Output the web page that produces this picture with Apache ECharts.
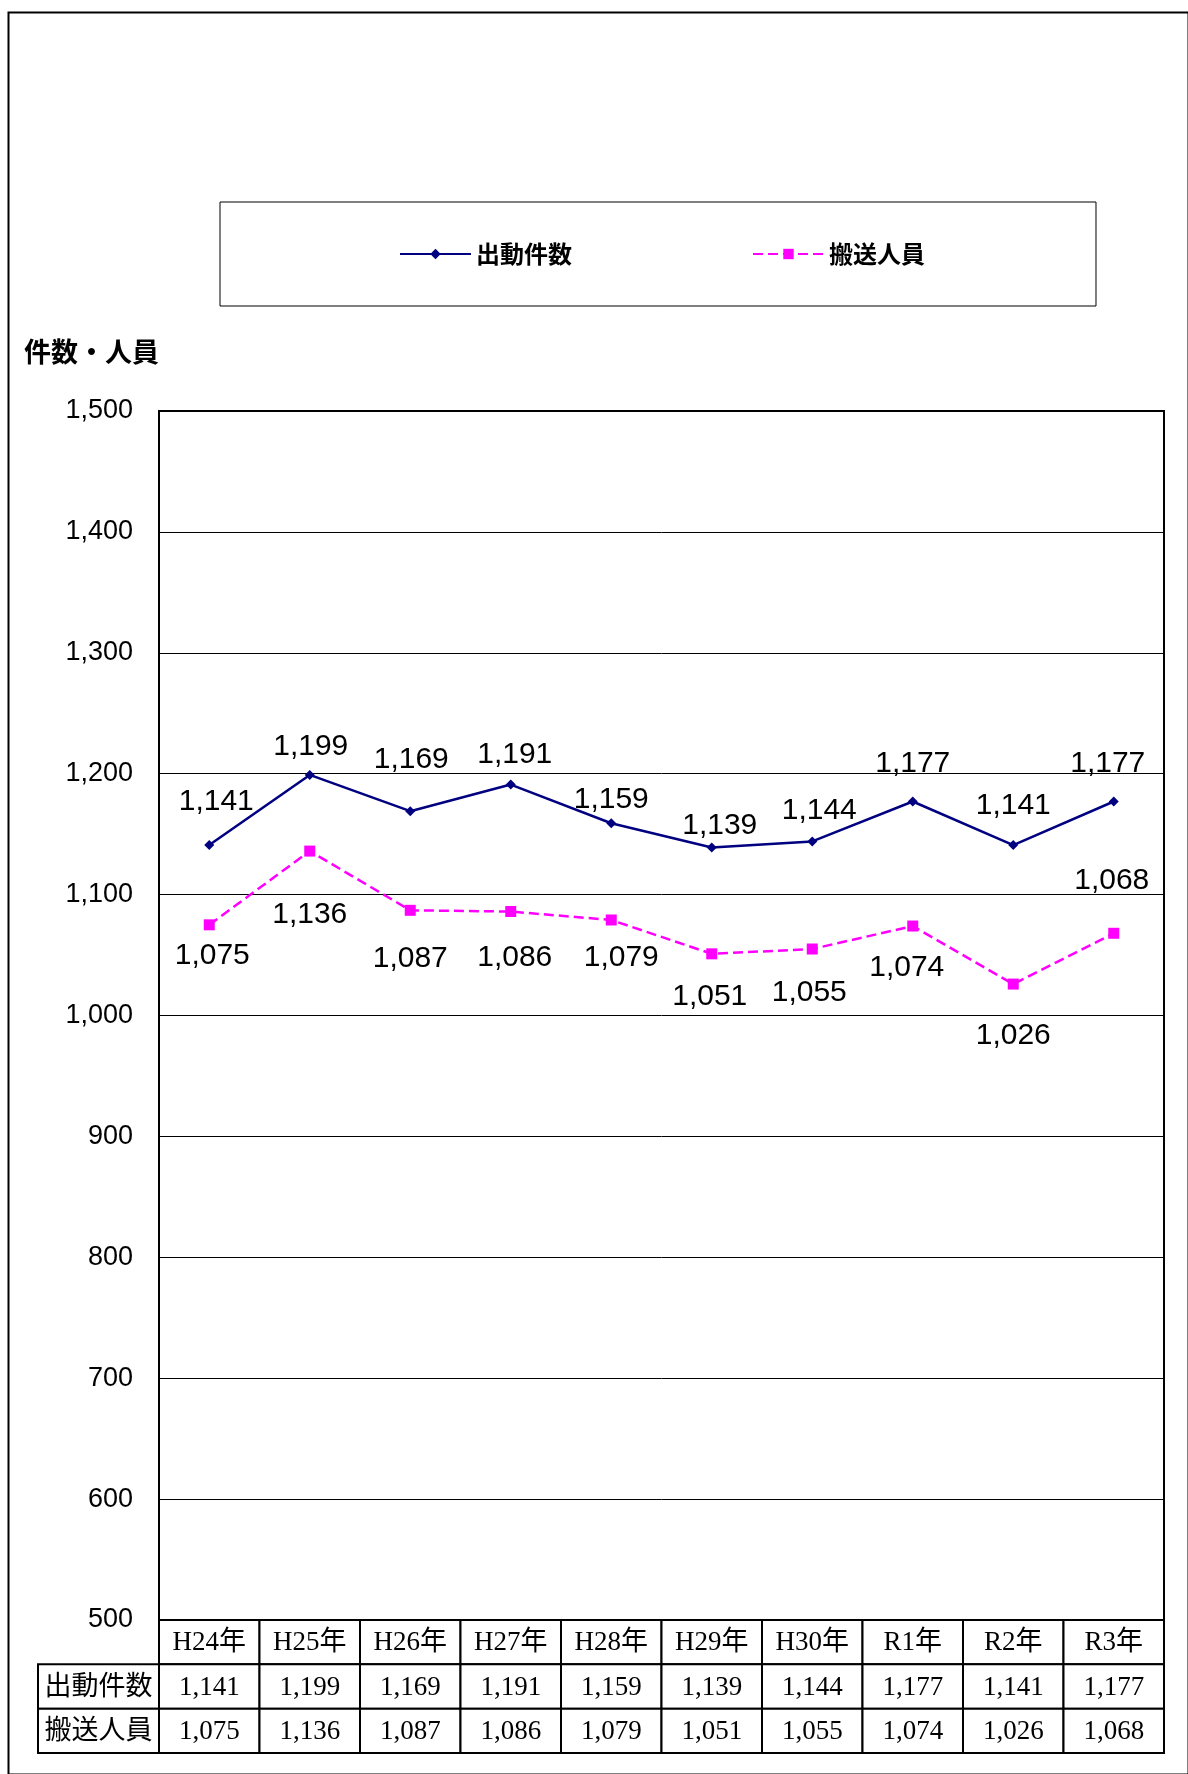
<!DOCTYPE html>
<html><head><meta charset="utf-8">
<script src="https://cdn.jsdelivr.net/npm/echarts@6/dist/echarts.min.js"></script>
<style>html,body{margin:0;padding:0;background:#fff}#c{width:1188px;height:1774px}</style>
</head><body><div id="c"></div>
<script>
// ---- data ----
const categories = ['H24年','H25年','H26年','H27年','H28年','H29年','H30年','R1年','R2年','R3年'];
const seriesNames = ['出動件数','搬送人員'];
const dispatchCounts = [1141,1199,1169,1191,1159,1139,1144,1177,1141,1177];
const transportCounts = [1075,1136,1087,1086,1079,1051,1055,1074,1026,1068];
const yMin = 500, yMax = 1500, yStep = 100;
const yAxisName = '件数・人員';

// ---- label placement (relative offsets from each point, px) ----
const dispatchLabelOffsets = [[7,-43],[1,-28],[1,-51],[4,-30],[0,-24],[8,-22],[7,-31],[0,-38],[0,-39],[-6,-38]];
const transportLabelOffsets = [[3,31],[0,64],[0,48],[4,46],[10,38],[-2,43],[-3,44],[-6,42],[0,52],[-2,-53]];

const fmt = v => Number(v).toLocaleString('en-US');
const LABEL_FONT = "'Liberation Sans',Arial,sans-serif";
const SANS = "'Liberation Sans',Arial,sans-serif";
const TABLE_FONT = "'Liberation Serif','Noto Sans CJK JP',serif";
const CJK = "'Noto Sans CJK JP',sans-serif";
const HEADER_W = 121;

function mkData(vals, offs) {
  return vals.map((v, i) => ({ value: v, label: { offset: offs[i] } }));
}

const tableRows = [categories, dispatchCounts.map(fmt), transportCounts.map(fmt)];
const tableData = [];
for (let r = 0; r < 3; r++) for (let i = 0; i < categories.length; i++) tableData.push([i, r, 0]);
for (let r = 1; r < 3; r++) tableData.push([0, r, 1]);

const chart = echarts.init(document.getElementById('c'), null, { renderer: 'canvas' });
chart.setOption({
  animation: false,
  backgroundColor: '#fff',
  graphic: [{
    type: 'rect', left: 6, top: 10, z: -1,
    shape: { width: 1180, height: 1762 },
    style: { fill: 'none', stroke: '#000', lineWidth: 2 }
  }],
  legend: {
    left: 220, top: 202,
    padding: [40, 171, 40, 179],
    borderColor: '#000', borderWidth: 1,
    itemWidth: 71, itemHeight: 13, itemGap: 180,
    textStyle: { fontFamily: CJK, fontSize: 24, fontWeight: 'bold', color: '#000', lineHeight: 24 },
    data: seriesNames
  },
  grid: [
    { left: 159, right: 24, top: 411, bottom: 154, show: true, borderColor: '#000', borderWidth: 2, backgroundColor: 'transparent' },
    { left: 159, right: 24, top: 1620, bottom: 21 }
  ],
  xAxis: [
    { type: 'category', gridIndex: 0, data: categories, boundaryGap: true,
      axisLine: { show: true, lineStyle: { color: '#000', width: 2 } },
      axisTick: { show: false }, axisLabel: { show: false }, splitLine: { show: false } },
    { type: 'category', gridIndex: 1, data: categories, show: false }
  ],
  yAxis: [
    { type: 'value', gridIndex: 0, min: yMin, max: yMax, interval: yStep,
      name: yAxisName, nameLocation: 'end', nameGap: 46,
      nameTextStyle: { fontFamily: CJK, fontSize: 27, fontWeight: 'bold', color: '#000', align: 'right' },
      axisLine: { show: false }, axisTick: { show: false },
      axisLabel: { formatter: fmt, fontSize: 27, fontFamily: SANS, color: '#000', margin: 26, padding: [6, 0, 0, 0] },
      splitLine: { show: true, lineStyle: { color: '#000', width: 1 } } },
    { type: 'category', gridIndex: 1, data: ['c', 'a', 'b'], inverse: true, show: false }
  ],
  series: [
    { name: seriesNames[0], type: 'line', xAxisIndex: 0, yAxisIndex: 0,
      data: mkData(dispatchCounts, dispatchLabelOffsets),
      symbol: 'diamond', symbolSize: 10,
      lineStyle: { color: '#000080', width: 2.5 },
      itemStyle: { color: '#000080' },
      label: { show: true, position: 'inside', formatter: p => fmt(p.value), fontFamily: LABEL_FONT, fontSize: 30, color: '#000' },
      z: 3 },
    { name: seriesNames[1], type: 'line', xAxisIndex: 0, yAxisIndex: 0,
      data: mkData(transportCounts, transportLabelOffsets),
      symbol: 'rect', symbolSize: 11,
      lineStyle: { color: '#FF00FF', width: 2.5, type: [10, 5] },
      itemStyle: { color: '#FF00FF' },
      label: { show: true, position: 'inside', formatter: p => fmt(p.value), fontFamily: LABEL_FONT, fontSize: 30, color: '#000' },
      z: 2 },
    { type: 'custom', xAxisIndex: 1, yAxisIndex: 1, silent: true,
      encode: { x: 0, y: 1 },
      data: tableData,
      renderItem: function (params, api) {
        const i = api.value(0), r = api.value(1), isHeader = api.value(2);
        const c = api.coord([i, r]);
        const sz = api.size([1, 1]);
        const h = sz[1];
        let cx, cw, text;
        if (isHeader) { cw = HEADER_W; cx = params.coordSys.x - cw / 2; text = seriesNames[r - 1]; }
        else { cw = sz[0]; cx = c[0]; text = tableRows[r][i]; }
        const cy = c[1];
        return { type: 'group', children: [
          { type: 'rect', shape: { x: cx - cw / 2, y: cy - h / 2, width: cw, height: h },
            style: { fill: '#fff', stroke: '#000', lineWidth: 2 } },
          { type: 'text', style: { text: text, x: cx, y: cy + 1, textAlign: 'center', textVerticalAlign: 'middle',
            fontSize: 27, fontFamily: TABLE_FONT, fill: '#000' } }
        ] };
      } }
  ]
});
</script></body></html>
